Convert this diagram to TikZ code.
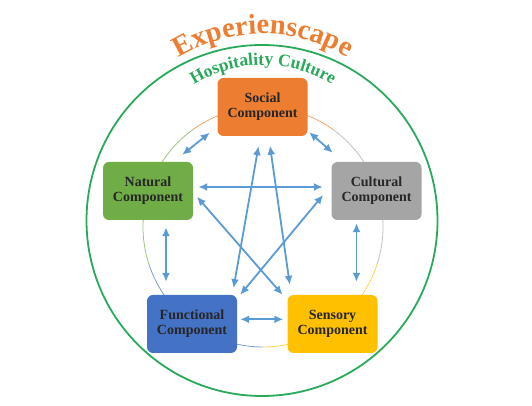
\documentclass[tikz,border=0pt]{standalone}
\usepackage{fontspec}
\setmainfont{Liberation Serif}
\usetikzlibrary{arrows.meta,calc,decorations.text}
\definecolor{socialorange}{RGB}{237,125,49}
\definecolor{naturalgreen}{RGB}{112,173,71}
\definecolor{culturalgray}{RGB}{165,165,165}
\definecolor{functionalblue}{RGB}{68,114,196}
\definecolor{sensoryyellow}{RGB}{255,192,0}
\definecolor{linkblue}{RGB}{91,155,213}
\definecolor{culturegreen}{RGB}{40,170,90}
\begin{document}
\begin{tikzpicture}[
    x=1pt, y=1pt,
    box/.style={
        rounded corners=6pt,
        minimum height=58pt,
        minimum width=90pt,
        inner sep=2pt,
        align=center,
        font=\bfseries\fontsize{14}{15}\selectfont,
        text=black!85
    },
    link/.style={
        {Latex[length=9pt,width=8pt]}-{Latex[length=9pt,width=8pt]},
        draw=linkblue,
        line width=1.8pt
    }
]

\useasboundingbox (0,0) rectangle (532,406);

\coordinate (hub) at (262,185.5);
\coordinate (titlehub) at (263,210);
\coordinate (ring) at (263,179);

\draw[culturegreen, line width=1.8pt] (hub) circle[radius=175.5];

\path[decorate, decoration={text along path, text align=center,
    text={|\fontsize{28.5}{29}\selectfont\bfseries\color{socialorange}|Experienscape}}]
    (titlehub) ++(150:162) arc[start angle=150, end angle=30, radius=162];
\path[decorate, decoration={text along path, text align=center,
    text={|\fontsize{17.5}{18}\selectfont\bfseries\color{culturegreen}|Hospitality Culture}}]
    (titlehub) ++(150:131) arc[start angle=150, end angle=30, radius=131];

% inner ring, one colour per component
\foreach \a/\col in {90/socialorange, 162/naturalgreen, 234/functionalblue,
                     306/sensoryyellow, 18/culturalgray}
    \draw[\col!70, line width=0.8pt] (ring) ++(\a-36:120)
        arc[start angle=\a-36, end angle=\a+36, radius=120];

\node[box, fill=socialorange] (social) at (262.5,299) {Social\\Component};

\node[box, fill=naturalgreen] (natural) at (148,215) {Natural\\Component};

\node[box, fill=culturalgray] (cultural) at (376.5,215) {Cultural\\Component};

\node[box, fill=functionalblue] (functional) at (192,82) {Functional\\Component};

\node[box, fill=sensoryyellow] (sensory) at (332.5,82) {Sensory\\Component};

\draw[link] ($(social.south west)+(-7.5,3.5)$) -- ($(natural.north east)+(-11,7)$);
\draw[link] ($(social.south east)+(1.5,4)$) -- ($(cultural.north west)+(1.5,9)$);
\draw[link] ($(natural.east)+(5,4)$) -- ($(cultural.west)+(-8.5,4)$);
\draw[link] ($(natural.south)+(18,-7)$) -- ($(functional.north)+(-26,13)$);
\draw[link] ($(cultural.south)+(-20,-3)$) -- ($(sensory.north)+(24,13)$);
\draw[link] ($(functional.east)+(3,4.7)$) -- ($(sensory.west)+(-4,4.7)$);
\draw[link] ($(social.south)+(-4,-10)$) -- ($(functional.north east)+(-3.7,6.7)$);
\draw[link] ($(social.south)+(7.5,-9.5)$) -- ($(sensory.north west)+(2.5,10)$);
\draw[link] ($(natural.east)+(3.7,-5.7)$) -- ($(sensory.north west)+(-4.8,0)$);
\draw[link] ($(cultural.west)+(-8.2,-4)$) -- ($(functional.north east)+(3,0)$);

\end{tikzpicture}
\end{document}
